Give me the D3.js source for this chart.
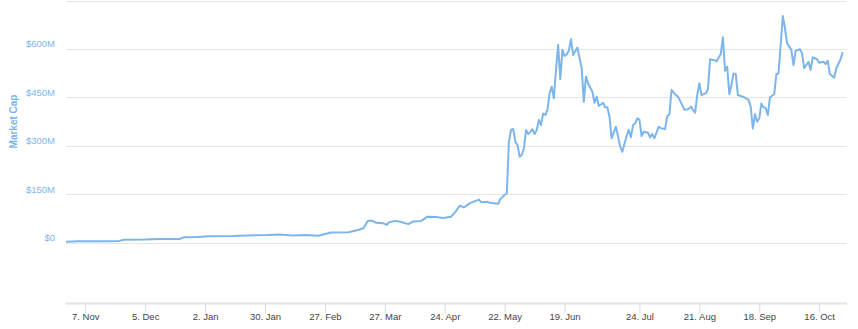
<!DOCTYPE html>
<meta charset="utf-8">
<head>
<script src="https://d3js.org/d3.v7.min.js"></script>
<style>
  body { margin: 0; background: #fff; }
  svg { display: block; font-family: "Lucida Grande", "Liberation Sans", Arial, sans-serif; }
</style>
</head>
<body>
<svg id="chart" width="858" height="329"></svg>
<script>

// dates of the readings (2016-10-29 .. 2017-10-27)
var dates = [
  "2016-10-29","2016-11-04","2016-11-10","2016-11-18","2016-11-23","2016-11-25","2016-12-05","2016-12-12",
  "2016-12-21","2016-12-23","2016-12-29","2017-01-04","2017-01-15","2017-01-22","2017-01-31","2017-02-06",
  "2017-02-12","2017-02-18","2017-02-24","2017-02-28","2017-03-02","2017-03-10","2017-03-14","2017-03-17",
  "2017-03-19","2017-03-21","2017-03-23","2017-03-26","2017-03-28","2017-03-29","2017-04-01","2017-04-04",
  "2017-04-07","2017-04-09","2017-04-13","2017-04-16","2017-04-20","2017-04-23","2017-04-27","2017-04-29",
  "2017-05-01","2017-05-03","2017-05-06","2017-05-10","2017-05-11","2017-05-14","2017-05-15","2017-05-18",
  "2017-05-19","2017-05-20","2017-05-22","2017-05-23","2017-05-24","2017-05-25","2017-05-26","2017-05-27",
  "2017-05-28","2017-05-29","2017-05-30","2017-05-31","2017-06-01","2017-06-02","2017-06-03","2017-06-04",
  "2017-06-05","2017-06-06","2017-06-07","2017-06-08","2017-06-09","2017-06-10","2017-06-11","2017-06-12",
  "2017-06-13","2017-06-14","2017-06-15","2017-06-16","2017-06-17","2017-06-18","2017-06-19","2017-06-20",
  "2017-06-21","2017-06-22","2017-06-23","2017-06-25","2017-06-27","2017-06-28","2017-06-29","2017-06-30",
  "2017-07-02","2017-07-03","2017-07-04","2017-07-05","2017-07-07","2017-07-08","2017-07-09","2017-07-10",
  "2017-07-11","2017-07-13","2017-07-14","2017-07-15","2017-07-16","2017-07-18","2017-07-19","2017-07-20",
  "2017-07-21","2017-07-22","2017-07-23","2017-07-24","2017-07-25","2017-07-26","2017-07-28","2017-07-29",
  "2017-07-30","2017-07-31","2017-08-02","2017-08-03","2017-08-05","2017-08-06","2017-08-07","2017-08-08",
  "2017-08-10","2017-08-11","2017-08-13","2017-08-14","2017-08-16","2017-08-17","2017-08-19","2017-08-20",
  "2017-08-21","2017-08-22","2017-08-24","2017-08-25","2017-08-26","2017-08-28","2017-08-29","2017-08-31",
  "2017-09-01","2017-09-02","2017-09-03","2017-09-04","2017-09-05","2017-09-06","2017-09-07","2017-09-08",
  "2017-09-11","2017-09-13","2017-09-14","2017-09-15","2017-09-16","2017-09-17","2017-09-18","2017-09-19",
  "2017-09-20","2017-09-21","2017-09-22","2017-09-23","2017-09-25","2017-09-26","2017-09-27","2017-09-29",
  "2017-09-30","2017-10-01","2017-10-03","2017-10-04","2017-10-05","2017-10-07","2017-10-08","2017-10-09",
  "2017-10-11","2017-10-12","2017-10-13","2017-10-15","2017-10-16","2017-10-18","2017-10-19","2017-10-20",
  "2017-10-21","2017-10-23","2017-10-24","2017-10-26","2017-10-27"
];

// market cap in millions of dollars
var marketCap = [
  2, 4, 3.5, 4, 5, 8.5, 9, 10.5,
  11, 16, 17, 19, 20, 22, 23, 25,
  22, 23, 21, 28, 31, 32, 38, 44,
  67, 68, 61, 60, 55, 63, 67, 63,
  57, 65, 67, 80, 79, 76, 80, 95,
  114, 109, 123, 133, 125, 126, 123, 121,
  120, 135, 147, 152, 312, 349, 352, 312,
  302, 266, 271, 292, 349, 336, 343, 351,
  336, 349, 380, 364, 400, 395, 411, 462,
  483, 447, 535, 612, 506, 597, 578, 583,
  594, 630, 581, 604, 540, 436, 514, 493,
  467, 433, 452, 423, 433, 419, 419, 390,
  323, 359, 328, 297, 281, 330, 349, 326,
  364, 369, 385, 380, 330, 343, 340, 326,
  336, 323, 359, 354, 352, 392, 397, 473,
  457, 452, 426, 411, 414, 421, 402, 457,
  493, 457, 462, 475, 568, 565, 561, 584,
  636, 532, 545, 460, 488, 524, 522, 457,
  450, 442, 421, 353, 398, 374, 385, 431,
  419, 417, 395, 450, 460, 522, 524, 702,
  664, 617, 597, 550, 594, 599, 586, 540,
  560, 535, 574, 568, 557, 560, 553, 563,
  522, 511, 540, 568, 590
];

var yTicks = [0, 150, 300, 450, 600, 750];
var yLabelTicks = [0, 150, 300, 450, 600];
var xTickDates = ["2016-11-07","2016-12-05","2017-01-02","2017-01-30","2017-02-27","2017-03-27",
  "2017-04-24","2017-05-22","2017-06-19","2017-07-24","2017-08-21","2017-09-18","2017-10-16"];

var parse = d3.timeParse("%Y-%m-%d");
var series = dates.map(function(d, i) { return { date: parse(d), value: marketCap[i] }; });

var svg = d3.select("#chart");
var plotLeft = 66, plotRight = 847, plotTop = 0.5, plotBottom = 242.5, axisY = 303;
var blue = "#7cb5ec";

var x = d3.scaleTime()
  .domain([parse("2016-10-29"), parse("2017-10-29")])
  .range([plotLeft, plotRight]);

var y = d3.scaleLinear()
  .domain([0, 750])
  .range([plotBottom, plotTop]);

// gridlines
svg.append("g")
  .selectAll("line")
  .data(yTicks)
  .enter()
  .append("line")
    .attr("x1", plotLeft)
    .attr("x2", plotRight)
    .attr("y1", function(d) { return Math.round(y(d)) + 0.5; })
    .attr("y2", function(d) { return Math.round(y(d)) + 0.5; })
    .attr("stroke", "#e6e6e6")
    .attr("stroke-width", 1);

// y labels
svg.append("g")
  .selectAll("text")
  .data(yLabelTicks)
  .enter()
  .append("text")
    .attr("x", 55)
    .attr("y", function(d) { return y(d) - 1.5; })
    .attr("text-anchor", "end")
    .attr("fill", blue)
    .style("font-size", "9.5px")
    .text(function(d) { return "$" + d + (d ? "M" : ""); });

// y title
svg.append("text")
  .attr("transform", "translate(17," + ((plotTop + plotBottom) / 2) + ") rotate(-90)")
  .attr("text-anchor", "middle")
  .attr("fill", blue)
  .style("font-size", "10px")
  .style("font-weight", "bold")
  .text("Market Cap");

// x axis
var xAxis = d3.axisBottom(x)
  .tickValues(xTickDates.map(parse))
  .tickSize(10)
  .tickPadding(0)
  .tickFormat(d3.timeFormat("%-d. %b"));

var gx = svg.append("g")
  .attr("transform", "translate(0," + axisY + ")")
  .call(xAxis);

gx.select(".domain")
  .attr("d", "M" + plotLeft + ",0.5H" + plotRight)
  .attr("stroke", "#dde2ec")
  .attr("stroke-width", 2);
gx.selectAll(".tick line").attr("stroke", "#d5dbe8");
gx.selectAll(".tick text")
  .attr("fill", "#444")
  .style("font-size", "9.5px")
  .style("font-family", "\"Lucida Grande\", \"Liberation Sans\", Arial, sans-serif");

// line
var line = d3.line()
  .x(function(d) { return x(d.date); })
  .y(function(d) { return y(d.value); });

svg.append("path")
  .datum(series)
  .attr("d", line)
  .attr("fill", "none")
  .attr("stroke", blue)
  .attr("stroke-width", 2)
  .attr("stroke-linejoin", "round");

</script>
</body>
